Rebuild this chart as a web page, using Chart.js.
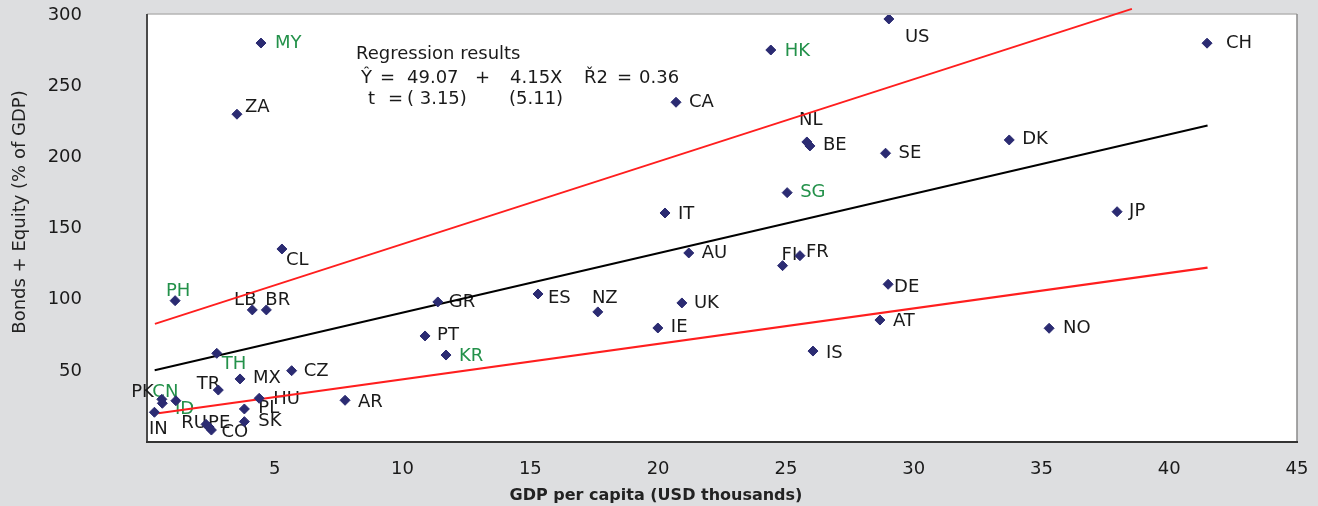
<!DOCTYPE html>
<html>
<head>
<meta charset="utf-8">
<script src="https://cdn.jsdelivr.net/npm/chart.js@4.4.0/dist/chart.umd.min.js"></script>
<style>
  html, body { margin: 0; padding: 0; background: #dddee0; }
  #chart { display: block; }
</style>
</head>
<body>
<canvas id="chart" width="1318" height="506"></canvas>
<script>
// Country codes and their values
let countries = ['MY','ZA','US','HK','CH','CA','NL','BE','SE','DK','SG','IT','JP','AU','FI','FR','CL','DE','PH','LB','BR','GR','ES','NZ','UK','IE','AT','NO','PT','KR','IS','TH','CZ','MX','TR','PK','CN','ID','HU','AR','IN','PL','SK','RU','PE','CO'];
let gdpPerCapita = [4.46,3.52,29.03,24.41,41.48,20.7,25.82,25.94,28.9,33.74,25.05,20.27,37.96,21.2,24.87,25.55,5.28,29.0,1.1,4.12,4.67,11.38,15.3,17.64,20.93,19.99,28.68,35.3,10.88,11.7,26.06,2.73,5.66,3.64,2.79,0.58,0.6,1.13,4.39,7.75,0.29,3.81,3.81,2.31,2.43,2.52];
let bondsEquity = [280.3,230.3,297.2,275.4,280.2,238.7,210.8,208,202.9,212.2,175.2,160.9,161.8,132.8,123.9,130.9,135.6,110.8,99.3,92.8,92.8,98.4,104,91.4,97.7,80.1,85.7,79.9,74.5,61.1,63.9,62.3,50.1,44.3,36.5,30,27.2,29,30.7,29.3,20.9,23.2,14.3,12.4,10.5,8.4];

// Emerging Asia shown with green labels
let greenLabels = ['MY','HK','SG','PH','TH','KR','CN','ID'];

// Fitted line and bands (end points)
let fitX = [0.3, 41.5];
let fitY = [50.4, 222.3];
let upperX = [0.31, 38.54];
let upperY = [83.0, 304.3];
let lowerX = [0.44, 41.5];
let lowerY = [20.2, 122.5];

let xTicks = [5, 10, 15, 20, 25, 30, 35, 40, 45];
let yTicks = [50, 100, 150, 200, 250, 300];

// label placement: [dx, dy, align]
let labelPlace = {
    MY: [14, -2, 'left'], ZA: [8, -9, 'left'], US: [16, 17, 'left'], HK: [14, -1, 'left'],
    CH: [19, -2, 'left'], CA: [13, -2, 'left'], NL: [4, -23, 'center'], BE: [13, -2, 'left'],
    SE: [13, -2, 'left'], DK: [13, -2, 'left'], SG: [13, -2, 'left'], IT: [13, 0, 'left'],
    JP: [12, -2, 'left'], AU: [13, -1, 'left'], FI: [-1, -12, 'left'], FR: [6, -5, 'left'],
    CL: [4, 10, 'left'], DE: [6, 1, 'left'], PH: [3, -11, 'center'], LB: [-7, -11, 'center'],
    BR: [-1, -11, 'left'], GR: [11, -1, 'left'], ES: [10, 3, 'left'], NZ: [7, -15, 'center'],
    UK: [12, -1, 'left'], IE: [13, -2, 'left'], AT: [13, -1, 'left'], NO: [14, -2, 'left'],
    PT: [12, -2, 'left'], KR: [13, -1, 'left'], IS: [13, 0, 'left'], TH: [5, 9, 'left'],
    CZ: [12, -1, 'left'], MX: [13, -2, 'left'], TR: [2, -8, 'right'], PK: [-8, -9, 'right'],
    CN: [3, -13, 'center'], ID: [-1, 7, 'left'], HU: [14, -1, 'left'], AR: [13, 0, 'left'],
    IN: [4, 15, 'center'], PL: [14, -2, 'left'], SK: [14, -2, 'left'], RU: [1, -3, 'right'],
    PE: [-1, -6, 'left'], CO: [10, 0, 'left']
};

const FONT = '"DejaVu Sans", Verdana, sans-serif';

function toPoints(xs, ys) {
    return xs.map((x, i) => ({ x: x, y: ys[i] }));
}

// white plot area with its frame
const frame = {
    id: 'frame',
    beforeDraw(chart) {
        const c = chart.ctx, a = chart.chartArea;
        c.save();
        c.fillStyle = '#dddee0';
        c.fillRect(0, 0, chart.width, chart.height);
        c.fillStyle = '#ffffff';
        c.fillRect(a.left, a.top - 1, a.right - a.left, a.bottom - a.top + 1);
        c.lineWidth = 1.5;
        c.strokeStyle = '#b4b4b4';
        c.beginPath(); c.moveTo(a.left, a.top - 1); c.lineTo(a.right, a.top - 1); c.stroke();
        c.strokeStyle = '#8a8a8a';
        c.beginPath(); c.moveTo(a.right, a.top - 1); c.lineTo(a.right, a.bottom); c.stroke();
        c.lineWidth = 2;
        c.strokeStyle = '#4a4a4a';
        c.beginPath(); c.moveTo(a.left, a.top - 1); c.lineTo(a.left, a.bottom); c.stroke();
        c.strokeStyle = '#333333';
        c.beginPath(); c.moveTo(a.left - 1, a.bottom); c.lineTo(a.right + 1, a.bottom); c.stroke();
        c.restore();
    }
};

// country labels, regression text and axis titles
const annotations = {
    id: 'annotations',
    beforeDatasetsDraw(chart) {
        const c = chart.ctx;
        const pts = chart.getDatasetMeta(0).data;
        c.save();
        c.font = '18px ' + FONT;
        countries.forEach((code, i) => {
            const p = labelPlace[code];
            c.fillStyle = greenLabels.includes(code) ? '#23914a' : '#1a1a1a';
            c.textAlign = p[2];
            c.fillText(code, pts[i].x + p[0], pts[i].y + p[1] + 6.5);
        });

        // regression box
        c.fillStyle = '#1a1a1a';
        c.textAlign = 'left';
        c.fillText('Regression results', 356, 59);
        [['Ŷ', 361], ['=', 380], ['49.07', 407], ['+', 475], ['4.15X', 510], ['Ř2', 584], ['=', 617], ['0.36', 639]]
            .forEach(t => c.fillText(t[0], t[1], 82.5));
        [['t', 368], ['=', 388], ['( 3.15)', 407], ['(5.11)', 509]]
            .forEach(t => c.fillText(t[0], t[1], 104));

        // axis titles
        c.fillStyle = '#222222';
        c.textAlign = 'center';
        c.textBaseline = 'middle';
        c.font = 'bold 16px ' + FONT;
        c.fillText('GDP per capita (USD thousands)', 656, 496);
        c.translate(20, 212);
        c.rotate(-Math.PI / 2);
        c.font = '18px ' + FONT;
        c.fillText('Bonds + Equity (% of GDP)', 0, 0);
        c.restore();
    }
};

const ctx = document.getElementById('chart').getContext('2d');
const chart = new Chart(ctx, {
    type: 'scatter',
    data: {
        datasets: [{
            data: toPoints(gdpPerCapita, bondsEquity),
            pointStyle: 'rectRot',
            pointRadius: 5,
            backgroundColor: '#2b2b72',
            borderColor: '#2b2b72',
            borderWidth: 1
        }, {
            data: toPoints(fitX, fitY),
            showLine: true,
            pointRadius: 0,
            borderColor: '#000000',
            borderWidth: 2
        }, {
            data: toPoints(upperX, upperY),
            showLine: true,
            pointRadius: 0,
            borderColor: '#ff1e1e',
            borderWidth: 1.8,
            clip: false
        }, {
            data: toPoints(lowerX, lowerY),
            showLine: true,
            pointRadius: 0,
            borderColor: '#ff1e1e',
            borderWidth: 2.2
        }]
    },
    options: {
        responsive: false,
        animation: false,
        devicePixelRatio: 1,
        layout: { padding: { top: 15, right: 21, left: 0, bottom: 0 } },
        plugins: { legend: { display: false }, tooltip: { enabled: false } },
        scales: {
            x: {
                type: 'linear',
                min: 0,
                max: 45,
                afterFit(scale) {
                    scale.height = 64;
                    scale.paddingLeft = 0;
                    scale.paddingRight = 0;
                },
                afterBuildTicks(scale) { scale.ticks = xTicks.map(v => ({ value: v })); },
                grid: { display: false, drawTicks: false },
                border: { display: false },
                ticks: { color: '#1a1a1a', padding: 17, font: { family: FONT, size: 18 } }
            },
            y: {
                min: 0,
                max: 300,
                afterFit(scale) {
                    scale.width = 147;
                    scale.paddingTop = 0;
                    scale.paddingBottom = 0;
                },
                afterBuildTicks(scale) { scale.ticks = yTicks.map(v => ({ value: v })); },
                grid: { display: false, drawTicks: false },
                border: { display: false },
                ticks: { color: '#1a1a1a', padding: 65, font: { family: FONT, size: 18 } }
            }
        }
    },
    plugins: [frame, annotations]
});
</script>
</body>
</html>
